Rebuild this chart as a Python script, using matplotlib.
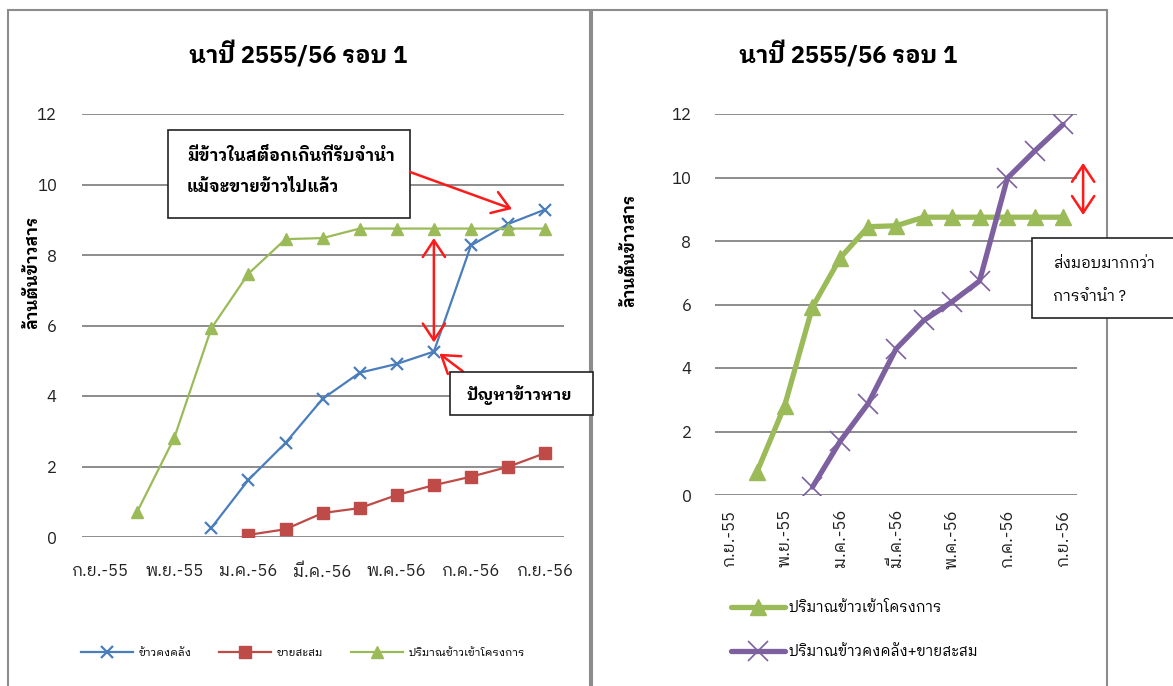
import numpy as np
import matplotlib
matplotlib.use("Agg")
import matplotlib.pyplot as plt
from matplotlib.patches import Rectangle, FancyArrowPatch

# Thai-capable fonts with real bold faces first, DejaVu as last resort
plt.rcParams['font.family'] = ['IBM Plex Sans Thai Looped', 'Sarabun', 'Noto Sans Thai',
                               'DejaVu Sans']

nan = np.nan
months = ['ก.ย.-55', 'ต.ค.-55', 'พ.ย.-55', 'ธ.ค.-55', 'ม.ค.-56', 'ก.พ.-56', 'มี.ค.-56',
          'เม.ย.-56', 'พ.ค.-56', 'มิ.ย.-56', 'ก.ค.-56', 'ส.ค.-56', 'ก.ย.-56']

# million tonnes of milled rice
pledged = [nan, 0.71, 2.81, 5.92, 7.47, 8.45, 8.48, 8.75, 8.75, 8.75, 8.75, 8.75, 8.75]
in_stock = [nan, nan, nan, 0.26, 1.62, 2.67, 3.92, 4.66, 4.91, 5.26, 8.27, 8.88, 9.29]
sold_cum = [nan, nan, nan, nan, 0.06, 0.22, 0.68, 0.82, 1.19, 1.47, 1.71, 1.99, 2.38]
stock_plus_sold = [nan, nan, nan, 0.25, 1.70, 2.88, 4.60, 5.50, 6.08, 6.74, 9.98, 10.85, 11.67]

title = 'นาปี 2555/56 รอบ 1'
ylabel = 'ล้านตันข้าวสาร'

BLUE = '#4A7EBB'
RED = '#BE4B48'
GREEN = '#9BBB59'
PURPLE = '#7D60A0'
GRID = '#8C8C8C'
ARROW = '#FF1A1A'

W, H = 1173, 686


def fx(x):
    return x / W


def fy(y):
    return 1 - y / H


def axes_at(x0, y0, x1, y1):
    return fig.add_axes([fx(x0), fy(y1), (x1 - x0) / W, (y1 - y0) / H])


def style_axes(ax):
    ax.set_xlim(-0.5, 12.5)
    ax.set_ylim(0, 12)
    ax.set_yticks(range(0, 13, 2))
    ax.set_xticks(range(0, 13, 2))
    ax.set_xticklabels(months[::2])
    ax.grid(axis='y', color=GRID, lw=1.4)
    ax.set_axisbelow(True)
    for s in ax.spines.values():
        s.set_visible(False)
    ax.tick_params(length=0, labelsize=12, colors='#222222')


def double_arrow(ax, xv, y0, y1):
    ax.annotate('', xy=(xv, y0), xytext=(xv, y1), annotation_clip=False,
                arrowprops=dict(arrowstyle='<->,head_length=0.6,head_width=0.4',
                                color=ARROW, lw=1.8, mutation_scale=20,
                                shrinkA=0, shrinkB=0))


fig = plt.figure(figsize=(W / 100, H / 100), dpi=100)

# chart frames
fig.add_artist(Rectangle((fx(8), fy(720)), 582 / W, 710 / H, transform=fig.transFigure,
                         fill=False, ec='#8C8C8C', lw=1.5))
fig.add_artist(Rectangle((fx(592), fy(720)), 515 / W, 710 / H, transform=fig.transFigure,
                         fill=False, ec='#8C8C8C', lw=1.5))

x = np.arange(len(months))

# ---- left chart
ax1 = axes_at(81.5, 114, 563.7, 537)
style_axes(ax1)
ax1.tick_params(axis='y', pad=18)
ax1.tick_params(axis='x', pad=19)
ax1.plot(x, in_stock, color=BLUE, lw=1.6, marker='x', ms=8, mew=1.6, label='ข้าวคงคลัง')
ax1.plot(x, sold_cum, color=RED, lw=1.6, marker='s', ms=9, label='ขายสะสม')
ax1.plot(x, pledged, color=GREEN, lw=1.6, marker='^', ms=9, label='ปริมาณข้าวเข้าโครงการ')
fig.text(fx(298), fy(55), title, ha='center', va='center', fontsize=17, fontweight='bold')
fig.text(fx(32), fy(272), ylabel, ha='center', va='center', rotation=90,
         fontsize=12, fontweight='bold')
ax1.legend(loc='center', bbox_to_anchor=(fx(303), fy(653)), bbox_transform=fig.transFigure,
           ncol=3, frameon=False, fontsize=8, handlelength=4.7, handletextpad=0.5,
           columnspacing=2.5)

# gap between stock and pledged rice
double_arrow(ax1, 9, 5.52, 8.48)
ax1.annotate('', xy=(9.15, 5.2), xytext=(9.78, 4.7), annotation_clip=False,
             arrowprops=dict(arrowstyle='->,head_length=0.6,head_width=0.4',
                             color=ARROW, lw=1.8, mutation_scale=20, shrinkA=0, shrinkB=0))

fig.add_artist(Rectangle((fx(168), fy(218)), 242 / W, 88 / H, transform=fig.transFigure,
                         fc='white', ec='#222222', lw=1.2))
fig.text(fx(187), fy(155), 'มีข้าวในสต็อกเกินที่รับจำนำ', va='center', fontsize=12,
         fontweight='bold')
fig.text(fx(187), fy(187), 'แม้จะขายข้าวไปแล้ว', va='center', fontsize=12, fontweight='bold')
fig.add_artist(FancyArrowPatch((fx(410), fy(172)), (fx(512), fy(209)),
                               transform=fig.transFigure, color=ARROW, lw=1.8,
                               arrowstyle='->,head_length=0.6,head_width=0.4',
                               mutation_scale=20, shrinkA=0, shrinkB=0))

fig.add_artist(Rectangle((fx(450), fy(415)), 143 / W, 43 / H, transform=fig.transFigure,
                         fc='white', ec='#222222', lw=1.2))
fig.text(fx(519), fy(395), 'ปัญหาข้าวหาย', ha='center', va='center', fontsize=11.5,
         fontweight='bold')

# ---- right chart
ax2 = axes_at(715, 114, 1077, 495)
style_axes(ax2)
ax2.tick_params(axis='y', pad=17)
ax2.tick_params(axis='x', pad=10, rotation=90)
ax2.plot(x, pledged, color=GREEN, lw=3.8, marker='^', ms=12,
         solid_capstyle='round', label='ปริมาณข้าวเข้าโครงการ')
ax2.plot(x, stock_plus_sold, color=PURPLE, lw=3.8, marker='x', ms=14, mew=1.2,
         solid_capstyle='round', label='ปริมาณข้าวคงคลัง+ขายสะสม')
fig.text(fx(848), fy(55), title, ha='center', va='center', fontsize=17, fontweight='bold')
fig.text(fx(629), fy(250), ylabel, ha='center', va='center', rotation=90,
         fontsize=12, fontweight='bold')
ax2.legend(loc='center left', bbox_to_anchor=(fx(731), fy(630)), bbox_transform=fig.transFigure,
           frameon=False, fontsize=10.5, handlelength=3.7, handletextpad=0.25,
           labelspacing=2.1, borderpad=0, borderaxespad=0)

double_arrow(ax2, 12.72, 8.82, 10.46)

fig.add_artist(Rectangle((fx(1032), fy(318)), 150 / W, 80 / H, transform=fig.transFigure,
                         fc='white', ec='#222222', lw=1.2))
fig.text(fx(1053), fy(264), 'ส่งมอบมากกว่า', va='center', fontsize=11)
fig.text(fx(1053), fy(297), 'การจำนำ ?', va='center', fontsize=11)

fig.savefig('out.png', dpi=100)
